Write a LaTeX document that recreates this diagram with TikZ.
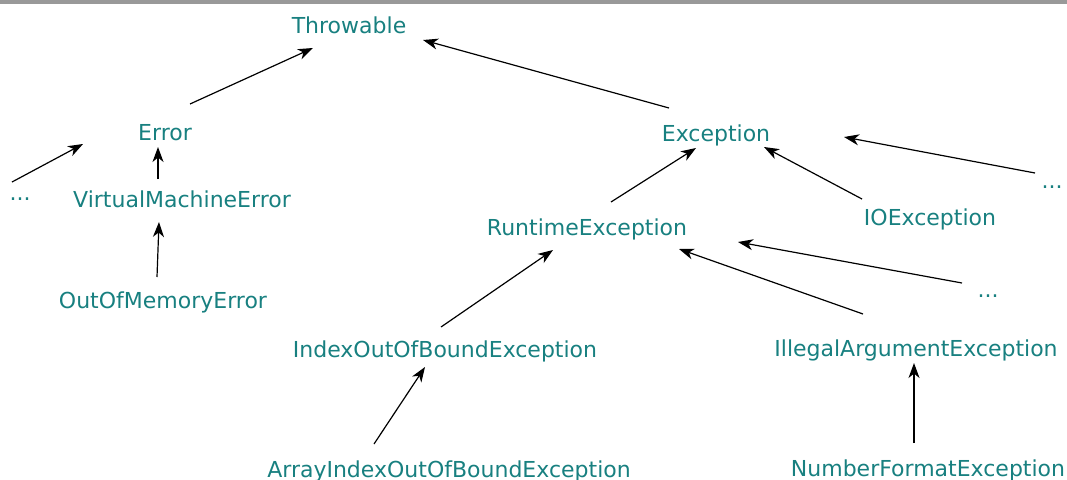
\documentclass[tikz,border=0pt]{standalone}
\usepackage{fontspec}
\setmainfont{DejaVu Sans}
\usetikzlibrary{arrows.meta,calc}
\definecolor{tealtext}{RGB}{24,128,128}
\definecolor{graybar}{RGB}{153,153,153}
\begin{document}
\begin{tikzpicture}[x=1pt,y=-1pt,
  lbl/.style={anchor=base, inner sep=0pt, text=tealtext, font=\fontsize{22}{25}\selectfont},
  arr/.style={draw=black, line width=1.2pt, -{Stealth[length=15pt,width=11pt,inset=4.5pt]}}]
\useasboundingbox (0,0) rectangle (1067,479);
\fill[graybar] (0,0) rectangle (1067,3.5);
% nodes
\node[lbl] (thr)  at (349,33)  {Throwable};
\node[lbl] (err)  at (165,140) {Error};
\node[lbl] (exc)  at (716,141) {Exception};
\node[lbl] (dl)   at (20,200)  {...};
\node[lbl] (vme)  at (182,207) {VirtualMachineError};
\node[lbl] (rte)  at (587,235) {RuntimeException};
\node[lbl] (ioe)  at (930,225) {IOException};
\node[lbl] (dr)   at (1052,188) {...};
\node[lbl] (oom)  at (163,308) {OutOfMemoryError};
\node[lbl] (dm)   at (988,297) {...};
\node[lbl] (iob)  at (445,357) {IndexOutOfBoundException};
\node[lbl] (iae)  at (916,356) {IllegalArgumentException};
\node[lbl] (aiob) at (449,477) {ArrayIndexOutOfBoundException};
\node[lbl] (nfe)  at (928,476) {NumberFormatException};
% connectors
\draw[arr] ($(err.base)+(25,-36)$) -- ($(thr.base)+(-36,15)$);
\draw[arr] ($(exc.base)+(-47,-33)$) -- ($(thr.base)+(74,7)$);
\draw[arr] ($(dl.base)+(-8,-18)$) -- ($(err.base)+(-82,4)$);
\draw[arr] ($(vme.base)+(-24,-28)$) -- ($(err.base)+(-7,7)$);
\draw[arr] ($(oom.base)+(-6,-31)$) -- ($(vme.base)+(-23,15)$);
\draw[arr] ($(rte.base)+(24,-33)$) -- ($(exc.base)+(-20,7)$);
\draw[arr] ($(ioe.base)+(-68,-26)$) -- ($(exc.base)+(48,6)$);
\draw[arr] ($(dr.base)+(-17,-15)$) -- ($(exc.base)+(128,-4)$);
\draw[arr] ($(dm.base)+(-26,-14)$) -- ($(rte.base)+(151,7)$);
\draw[arr] ($(iae.base)+(-53,-42)$) -- ($(rte.base)+(92,14)$);
\draw[arr] ($(iob.base)+(-4,-30)$) -- ($(rte.base)+(-34,15)$);
\draw[arr] ($(aiob.base)+(-75,-33)$) -- ($(iob.base)+(-20,10)$);
\draw[arr] ($(nfe.base)+(-14,-33)$) -- ($(iae.base)+(-2,7)$);
\end{tikzpicture}
\end{document}
